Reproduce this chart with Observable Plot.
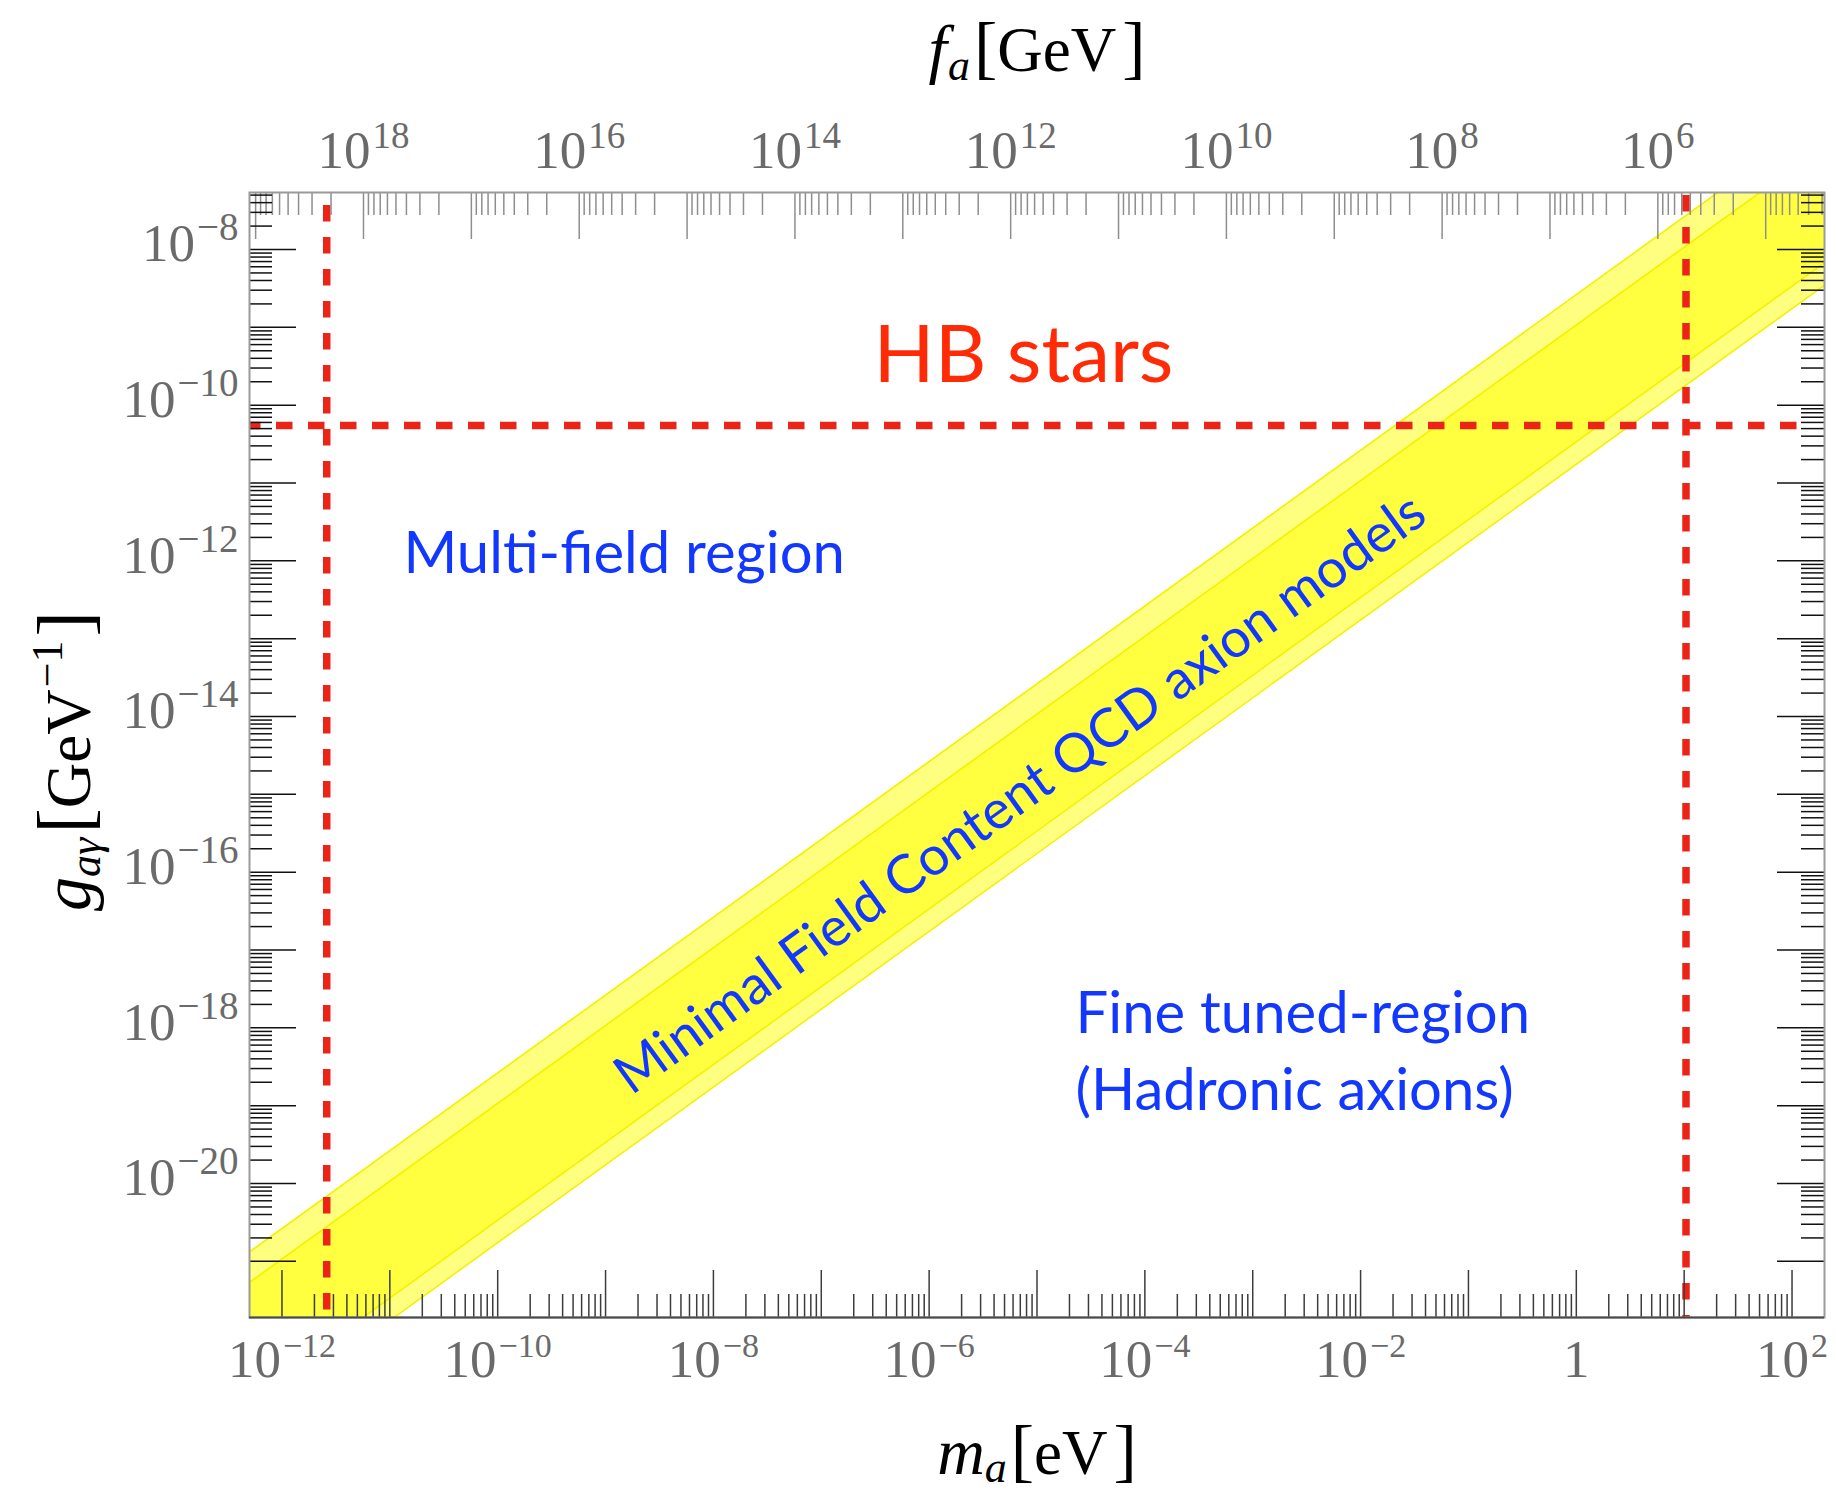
<!DOCTYPE html>
<html>
<head>
<meta charset="utf-8">
<script src="https://cdn.jsdelivr.net/npm/d3@7"></script>
<script src="https://cdn.jsdelivr.net/npm/@observablehq/plot@0.6"></script>
<style>
  html, body { margin: 0; padding: 0; background: #fff; }
  #chart svg { display: block; }
</style>
</head>
<body>
<div id="chart"></div>
<script>
// Axion parameter space: mass m_a [eV] (bottom), decay constant f_a [GeV] (top),
// photon coupling g_aγ [GeV^-1] (left/right), all logarithmic.
const massDomain = [5e-13, 2e2];
const couplingDomain = [1.9e-22, 5.4e-8];
const faTimesMass = 5.7e6; // f_a · m_a in GeV·eV, ties the top axis to the bottom one

// tick decades
const massMajorExps = [-12, -11, -10, -9, -8, -7, -6, -5, -4, -3, -2, -1, 0, 1, 2];
const massLabelExps = [-12, -10, -8, -6, -4, -2, 0, 2];
const faMajorExps = [19, 18, 17, 16, 15, 14, 13, 12, 11, 10, 9, 8, 7, 6, 5];
const faMinorExps = [18, 17, 16, 15, 14, 13, 12, 11, 10, 9, 8, 7, 6, 5, 4];
const faLabelExps = [18, 16, 14, 12, 10, 8, 6];
const couplingMajorExps = [-21, -20, -19, -18, -17, -16, -15, -14, -13, -12, -11, -10, -9, -8];
const couplingLabelExps = [-8, -10, -12, -14, -16, -18, -20];
const minorMultipliers = [2, 3, 4, 5, 6, 7, 8, 9];

// QCD axion band: two overlapping strips, g_aγ at the two ends of the mass range
const bandMass = [5e-13, 2e2];
const bandAUpper = [1.32e-21, 5.26e-7];
const bandALower = [1.69e-23, 6.78e-9];
const bandBUpper = [5.36e-22, 2.14e-7];
const bandBLower = [8.7e-24, 3.48e-9];

// horizontal-branch star limits
const hbCoupling = 5.5e-11;
const hbCouplingLineEnd = 1.2e2;
const massLimitLow = 2.6e-12;
const massLimitHigh = 10.4;

// annotations
const hbLabel = ["HB stars"];
const hbLabelMass = [7.5e-6];
const hbLabelCoupling = [1.97e-10];
const regionLabels = ["Multi-field region", "Fine tuned-region\n(Hadronic axions)"];
const regionLabelMass = [1.34e-11, 2.28e-5];
const regionLabelCoupling = [6.9e-13, 8.7e-20];
const bandLabel = ["Minimal Field Content QCD axion models"];
const bandLabelMass = [7.0e-6];
const bandLabelCoupling = [1.01e-15];

// axis titles, written as plain strings and typeset below
const titleTopText = "f_a[GeV]";
const titleBottomText = "m_a[eV]";
const titleLeftText = "g_a\u03b3[GeV^-1]";

// ---- layout & style
const W = 1836, H = 1496;
const M = {top: 192, right: 12, bottom: 179, left: 249};
const innerW = W - M.left - M.right;
const innerH = H - M.top - M.bottom;
const MAJOR = 47, MINOR = 23;
const RED = "#ec2418";
const BLUE = "#1238ff";
const YELLOW = "#ffff00";
const TICKFONT = 53;
const SANS = "Lato, 'Noto Sans', sans-serif";
const SERIF = "'Liberation Serif', 'DejaVu Serif', serif";

const pow10 = (e) => Math.pow(10, e);
const inside = (dom) => (v) => v > dom[0] * 1.002 && v < dom[1] * 0.998;
const inMass = inside(massDomain);
const inCoupling = inside(couplingDomain);

const massMajor = massMajorExps.map(pow10);
const massMinor = massMajorExps.flatMap(e => minorMultipliers.map(k => k * pow10(e))).filter(inMass);
const faMajor = faMajorExps.map(e => faTimesMass / pow10(e)).filter(inMass);
const faMinor = faMinorExps.flatMap(e => minorMultipliers.map(k => faTimesMass / (k * pow10(e)))).filter(inMass);
const couplingMajor = couplingMajorExps.map(pow10);
const couplingMinor = couplingMajorExps.flatMap(e => minorMultipliers.map(k => k * pow10(e))).filter(inCoupling);

const bandRows = bandMass.map((m, i) => ({
  m, aLo: bandALower[i], aHi: bandAUpper[i], bLo: bandBLower[i], bHi: bandBUpper[i]
}));

// slope of g ∝ m in screen space, for the band caption
const pxPerDecadeX = innerW / Math.log10(massDomain[1] / massDomain[0]);
const pxPerDecadeY = innerH / Math.log10(couplingDomain[1] / couplingDomain[0]);
const bandAngle = Math.atan2(pxPerDecadeY, pxPerDecadeX) * 180 / Math.PI;

const expText = (e) => e === 0 ? "1" : `10^${e < 0 ? "\u2212" + (-e) : e}`;
const dashed = {stroke: RED, strokeWidth: 7.5, strokeDasharray: "16.5,15.5"};

const chart = Plot.plot({
  width: W, height: H,
  marginTop: M.top, marginRight: M.right, marginBottom: M.bottom, marginLeft: M.left,
  style: {background: "#fff", fontFamily: SERIF},
  x: {type: "log", domain: massDomain},
  y: {type: "log", domain: couplingDomain},
  marks: [
    // QCD axion band
    Plot.areaY(bandRows, {x: "m", y1: "aLo", y2: "aHi", fill: YELLOW, fillOpacity: 0.5, clip: true}),
    Plot.areaY(bandRows, {x: "m", y1: "bLo", y2: "bHi", fill: YELLOW, fillOpacity: 0.5, clip: true}),
    ...["aLo", "aHi", "bLo", "bHi"].map(k =>
      Plot.lineY(bandRows, {x: "m", y: k, stroke: "#f2f200", strokeWidth: 1.6, clip: true})),

    // HB limits
    Plot.ruleX([massLimitLow], {...dashed, strokeDashoffset: 19}),
    Plot.ruleX([massLimitHigh], {...dashed, strokeDashoffset: 29}),
    Plot.ruleY([hbCoupling], {...dashed, x1: massDomain[0], x2: hbCouplingLineEnd, strokeDashoffset: 5}),

    // inward ticks
    Plot.tickX(massMajor, {insetTop: innerH - MAJOR, stroke: "#3c3c3c", strokeWidth: 1.5}),
    Plot.tickX(massMinor, {insetTop: innerH - MINOR, stroke: "#3c3c3c", strokeWidth: 1.5}),
    Plot.tickX(faMajor, {insetBottom: innerH - MAJOR, stroke: "#8e8e8e", strokeWidth: 1.5}),
    Plot.tickX(faMinor, {insetBottom: innerH - MINOR, stroke: "#8e8e8e", strokeWidth: 1.5}),
    Plot.tickY(couplingMajor, {insetRight: innerW - MAJOR, stroke: "#111", strokeWidth: 1.5}),
    Plot.tickY(couplingMinor, {insetRight: innerW - MINOR, stroke: "#111", strokeWidth: 1.5}),
    Plot.tickY(couplingMajor, {insetLeft: innerW - MAJOR, stroke: "#111", strokeWidth: 1.5}),
    Plot.tickY(couplingMinor, {insetLeft: innerW - MINOR, stroke: "#111", strokeWidth: 1.5}),

    // frame
    Plot.frame({stroke: "#9a9a9a", strokeWidth: 2}),
    Plot.ruleY([couplingDomain[0]], {stroke: "#4a4a4a", strokeWidth: 2}),

    // tick labels
    Plot.axisX({anchor: "bottom", ticks: massLabelExps.map(pow10), tickSize: 0, tickPadding: 22,
      tickFormat: (m) => expText(Math.round(Math.log10(m))), fontSize: TICKFONT, color: "#6a6a6a", label: null}),
    Plot.axisX({anchor: "top", ticks: faLabelExps.map(e => faTimesMass / pow10(e)), tickSize: 0, tickPadding: 25,
      tickFormat: (m) => expText(Math.round(Math.log10(faTimesMass / m))), fontSize: TICKFONT, color: "#6a6a6a", label: null}),
    Plot.axisY({anchor: "left", ticks: couplingLabelExps.map(pow10), tickSize: 0, tickPadding: 11, dy: -5,
      tickFormat: (g) => expText(Math.round(Math.log10(g))), fontSize: TICKFONT, color: "#6a6a6a", label: null}),

    // axis titles
    Plot.text([titleTopText], {frameAnchor: "top", dy: -122, textAnchor: "middle", lineAnchor: "bottom",
      text: d => d, fontSize: 62, fill: "#000", fontFamily: SERIF}),
    Plot.text([titleBottomText], {frameAnchor: "bottom", dy: 156, textAnchor: "middle", lineAnchor: "bottom",
      text: d => d, fontSize: 62, fill: "#000", fontFamily: SERIF}),
    Plot.text([titleLeftText], {frameAnchor: "left", dx: -160, dy: 6, rotate: -90, textAnchor: "middle", lineAnchor: "bottom",
      text: d => d, fontSize: 62, fill: "#000", fontFamily: SERIF}),

    // annotations
    Plot.text(hbLabel, {x: (d, i) => hbLabelMass[i], y: (d, i) => hbLabelCoupling[i], text: d => d,
      textAnchor: "middle", lineAnchor: "bottom", fontSize: 80, fill: "#ff2a06", fontFamily: SANS}),
    Plot.text(regionLabels, {x: (d, i) => regionLabelMass[i], y: (d, i) => regionLabelCoupling[i], text: d => d,
      textAnchor: "start", lineAnchor: "bottom", lineHeight: 1.33, fontSize: 58, fill: BLUE, fontFamily: SANS}),
    Plot.text(bandLabel, {x: (d, i) => bandLabelMass[i], y: (d, i) => bandLabelCoupling[i], text: d => d,
      textAnchor: "middle", lineAnchor: "middle", rotate: -bandAngle, fontSize: 54, fill: BLUE, fontFamily: SANS})
  ]
});

document.getElementById("chart").appendChild(chart);

// ---- typeset superscripts, subscripts and italics as tspans
const SVGNS = "http://www.w3.org/2000/svg";
function typeset(textEl, parts) {
  textEl.textContent = "";
  for (const p of parts) {
    const t = document.createElementNS(SVGNS, "tspan");
    t.textContent = p.t;
    if (p.size) t.setAttribute("font-size", p.size);
    if (p.italic) t.setAttribute("font-style", "italic");
    if (p.dx) t.setAttribute("dx", p.dx);
    if (p.dy) t.setAttribute("dy", p.dy);
    textEl.appendChild(t);
  }
}
function powerLabels(group, supSize, rise) {
  if (!group) return;
  for (const el of group.querySelectorAll("text")) {
    const s = el.textContent;
    const k = s.indexOf("^");
    if (k < 0) continue;
    typeset(el, [{t: s.slice(0, k)}, {t: s.slice(k + 1), size: supSize, dy: -rise, dx: 2}]);
  }
}
function textWith(content) {
  for (const el of chart.querySelectorAll("text")) if (el.textContent === content) return el;
  return null;
}

const xLabelGroups = chart.querySelectorAll('g[aria-label="x-axis tick label"]');
powerLabels(xLabelGroups[0], 34, 20);
powerLabels(xLabelGroups[1], 37, 20);
powerLabels(chart.querySelector('g[aria-label="y-axis tick label"]'), 39, 21);

const titleTop = textWith(titleTopText);
if (titleTop) typeset(titleTop, [
  {t: "f", italic: true, size: 66},
  {t: "a", italic: true, size: 44, dy: 9, dx: 1},
  {t: "[", size: 70, dy: -9, dx: 4},
  {t: "GeV", size: 63},
  {t: "]", size: 70, dx: 6}
]);
const titleBottom = textWith(titleBottomText);
if (titleBottom) typeset(titleBottom, [
  {t: "m", italic: true, size: 66},
  {t: "a", italic: true, size: 44, dy: 8},
  {t: "[", size: 70, dy: -8, dx: 4},
  {t: "eV", size: 63},
  {t: "]", size: 70, dx: 6}
]);
const titleLeft = textWith(titleLeftText);
if (titleLeft) typeset(titleLeft, [
  {t: "g", italic: true, size: 68},
  {t: "a\u03b3", italic: true, size: 44, dy: 10},
  {t: "[", size: 76, dy: -10, dx: 4},
  {t: "GeV", size: 63},
  {t: "\u22121", size: 44, dy: -28, dx: 2},
  {t: "]", size: 76, dy: 28, dx: 4}
]);
</script>
</body>
</html>
